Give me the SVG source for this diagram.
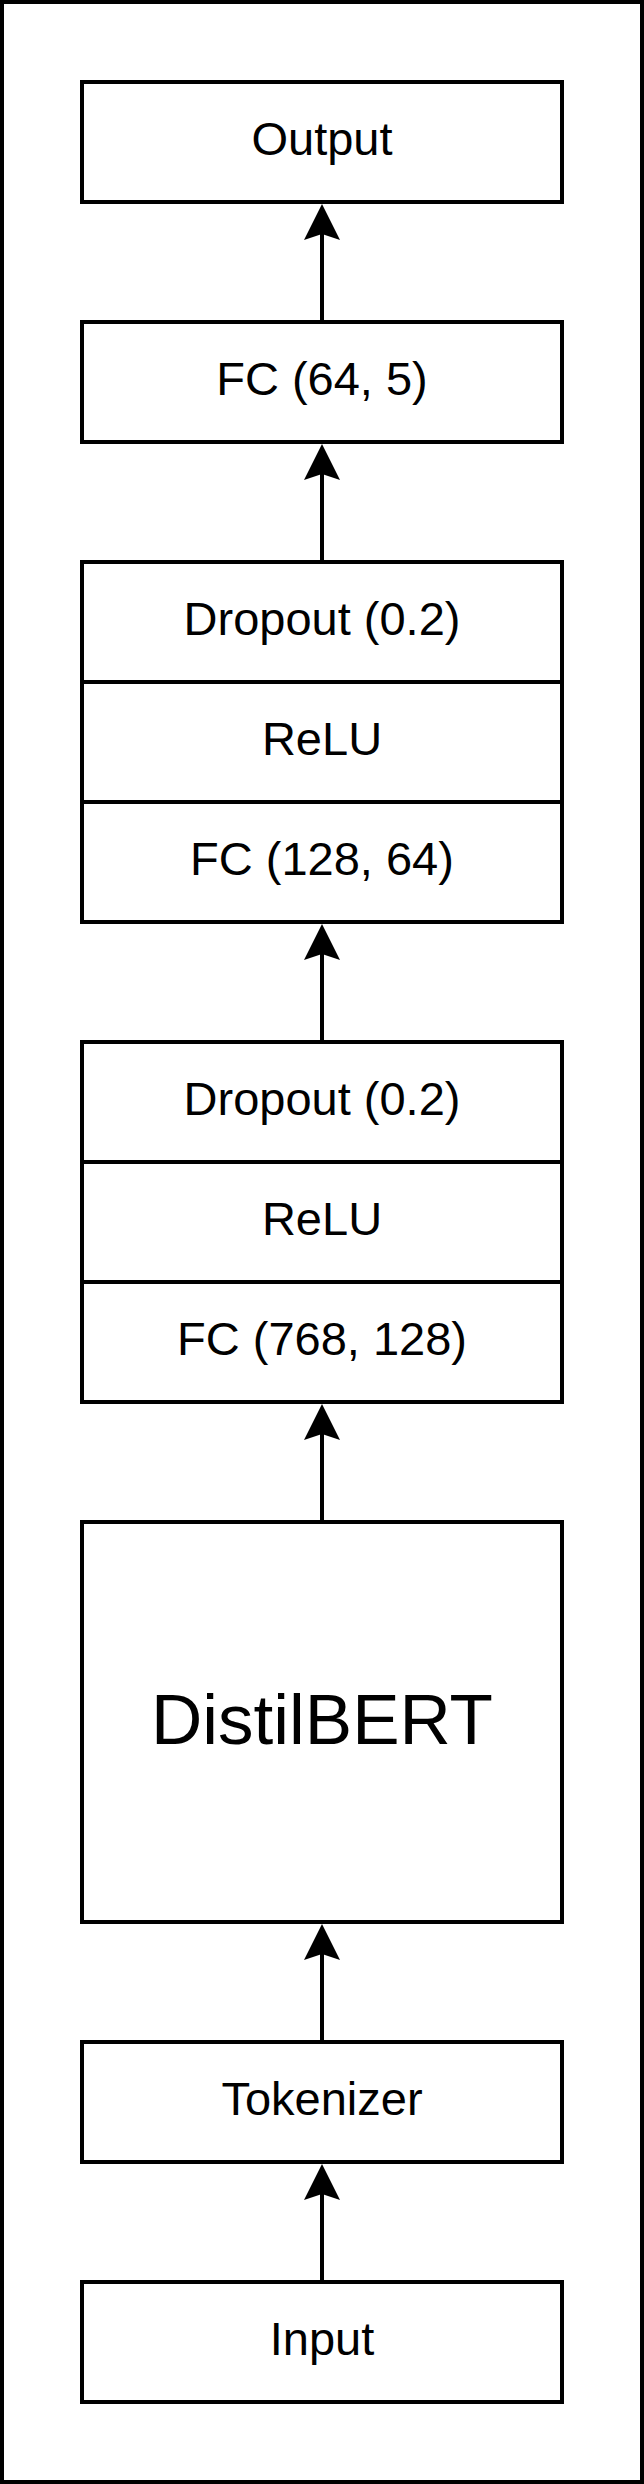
<svg xmlns="http://www.w3.org/2000/svg" width="644" height="2484" viewBox="0 0 644 2484">
<style>
.box{fill:#fff;stroke:#000;stroke-width:4}
.lbl{font-family:"Liberation Sans",Arial,sans-serif;font-size:47px;fill:#000;text-anchor:middle}
.big{font-size:71px}
.edge{stroke:#000;stroke-width:4;fill:none}
</style>
<defs>
<marker id="arr" viewBox="0 0 36 36" markerWidth="36" markerHeight="36" markerUnits="userSpaceOnUse" refX="6" refY="18" orient="auto">
<path d="M36,18 L0,0 L6,18 L0,36 Z" fill="#000"/>
</marker>
</defs>
<rect x="2" y="2" width="640" height="2480" fill="#fff" stroke="#000" stroke-width="4"/>
<g id="output"><rect class="box" x="82" y="82" width="480" height="120"/><text class="lbl" x="322" y="155">Output</text></g>
<g id="fc64_5"><rect class="box" x="82" y="322" width="480" height="120"/><text class="lbl" x="322" y="395">FC (64, 5)</text></g>
<g id="block2">
<g id="dropout2"><rect class="box" x="82" y="562" width="480" height="120"/><text class="lbl" x="322" y="635">Dropout (0.2)</text></g>
<g id="relu2"><rect class="box" x="82" y="682" width="480" height="120"/><text class="lbl" x="322" y="755">ReLU</text></g>
<g id="fc128_64"><rect class="box" x="82" y="802" width="480" height="120"/><text class="lbl" x="322" y="875">FC (128, 64)</text></g>
</g>
<g id="block1">
<g id="dropout1"><rect class="box" x="82" y="1042" width="480" height="120"/><text class="lbl" x="322" y="1115">Dropout (0.2)</text></g>
<g id="relu1"><rect class="box" x="82" y="1162" width="480" height="120"/><text class="lbl" x="322" y="1235">ReLU</text></g>
<g id="fc768_128"><rect class="box" x="82" y="1282" width="480" height="120"/><text class="lbl" x="322" y="1355">FC (768, 128)</text></g>
</g>
<g id="distilbert"><rect class="box" x="82" y="1522" width="480" height="400"/><text class="lbl big" x="322" y="1744">DistilBERT</text></g>
<g id="tokenizer"><rect class="box" x="82" y="2042" width="480" height="120"/><text class="lbl" x="322" y="2115">Tokenizer</text></g>
<g id="input"><rect class="box" x="82" y="2282" width="480" height="120"/><text class="lbl" x="322" y="2355">Input</text></g>
<g id="connectors">
<line class="edge" x1="322" y1="2282" x2="322" y2="2194" marker-end="url(#arr)"/>
<line class="edge" x1="322" y1="2042" x2="322" y2="1954" marker-end="url(#arr)"/>
<line class="edge" x1="322" y1="1522" x2="322" y2="1434" marker-end="url(#arr)"/>
<line class="edge" x1="322" y1="1042" x2="322" y2="954" marker-end="url(#arr)"/>
<line class="edge" x1="322" y1="562" x2="322" y2="474" marker-end="url(#arr)"/>
<line class="edge" x1="322" y1="322" x2="322" y2="234" marker-end="url(#arr)"/>
</g>
</svg>
